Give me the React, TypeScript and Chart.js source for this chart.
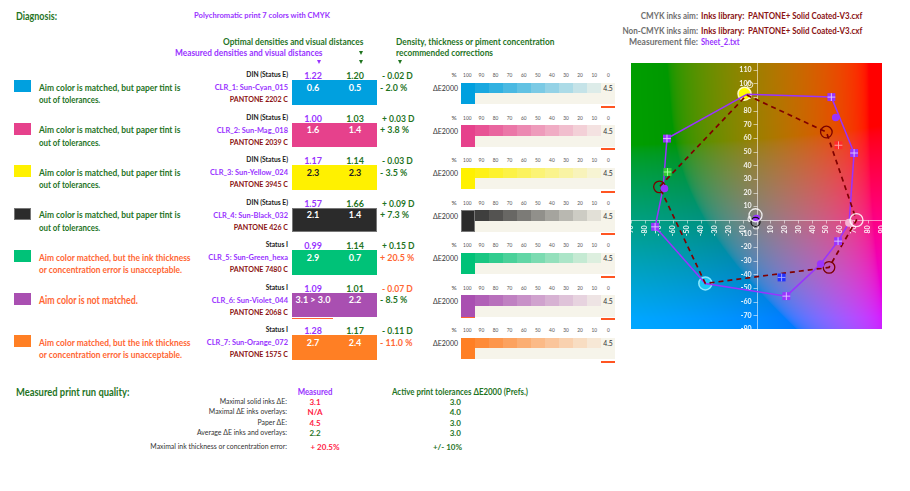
import React, { useEffect, useRef } from 'react';
import { Chart, registerables } from 'chart.js';
Chart.register(...registerables);

const FONT = 'Lato, "Noto Sans", "DejaVu Sans", sans-serif';

// ---------------- data: ink rows ----------------
const inkLabels = ['CLR_1: Sun-Cyan_015', 'CLR_2: Sun-Mag_018', 'CLR_3: Sun-Yellow_024', 'CLR_4: Sun-Black_032', 'CLR_5: Sun-Green_hexa', 'CLR_6: Sun-Violet_044', 'CLR_7: Sun-Orange_072'];
const pantoneRefs = ['PANTONE 2202 C', 'PANTONE 2039 C', 'PANTONE 3945 C', 'PANTONE 426 C', 'PANTONE 7480 C', 'PANTONE 2068 C', 'PANTONE 1575 C'];
const densityStatus = ['DIN (Status E)', 'DIN (Status E)', 'DIN (Status E)', 'DIN (Status E)', 'Status I', 'Status I', 'Status I'];
const measuredDensity = ['1.22', '1.00', '1.17', '1.57', '0.99', '1.09', '1.28'];
const optimalDensity = ['1.20', '1.03', '1.14', '1.66', '1.14', '1.01', '1.17'];
const densityCorrection = ['- 0.02 D', '+ 0.03 D', '- 0.03 D', '+ 0.09 D', '+ 0.15 D', '- 0.07 D', '- 0.11 D'];
const densityCorrectionOk = [true, true, true, true, true, false, true];
const measuredDeltaE = ['0.6', '1.6', '2.3', '2.1', '2.9', '3.1 > 3.0', '2.7'];
const optimalDeltaE = ['0.5', '1.4', '2.3', '1.4', '0.7', '2.2', '2.4'];
const deltaEOutOfTol = [false, false, false, false, false, true, false];
const thicknessCorrection = ['- 2.0 %', '+ 3.8 %', '- 3.5 %', '+ 7.3 %', '+ 20.5 %', '- 8.5 %', '- 11.0 %'];
const thicknessOk = [true, true, true, true, false, true, false];
const diagnosisText = [
  ['Aim color is matched, but paper tint is', 'out of tolerances.'],
  ['Aim color is matched, but paper tint is', 'out of tolerances.'],
  ['Aim color is matched, but paper tint is', 'out of tolerances.'],
  ['Aim color is matched, but paper tint is', 'out of tolerances.'],
  ['Aim color matched, but the ink thickness', 'or concentration error is unacceptable.'],
  ['Aim color is not matched.'],
  ['Aim color matched, but the ink thickness', 'or concentration error is unacceptable.'],
];
const diagnosisOk = [true, true, true, true, false, false, false];
const inkColors = ['#00a0df', '#e6418c', '#fff100', '#2b2b2b', '#00c278', '#a94fb1', '#ff7f24'];
const tintSteps = [100, 90, 80, 70, 60, 50, 40, 30, 20, 10];
const tintAxisLabels = ['100', '90', '80', '70', '60', '50', '40', '30', '20', '10', '0'];
const paperDeltaE = ['4.5', '4.5', '4.5', '4.5', '4.5', '4.5', '4.5'];

// ---------------- data: quality summary ----------------
const qualityLabels = ['Maximal solid inks ΔE:', 'Maximal ΔE inks overlays:', 'Paper ΔE:', 'Average ΔE inks and overlays:', 'Maximal ink thickness or concentration error:'];
const qualityMeasured = ['3.1', 'N/A', '4.5', '2.2', '+ 20.5%'];
const qualityMeasuredOk = [false, false, false, true, false];
const qualityTolerance = ['3.0', '4.0', '3.0', '3.0', '+/- 10%'];

// ---------------- data: a*b* chart ----------------
const aTicks = [-90, -80, -70, -60, -50, -40, -30, -20, -10, 0, 10, 20, 30, 40, 50, 60, 70, 80, 90];
const bTicks = [-80, -70, -60, -50, -40, -30, -20, -10, 0, 10, 20, 30, 40, 50, 60, 70, 80, 90, 100, 110];
const aimGamutA = [-7, 50.1, 71.7, 52, -36.7, -69.6, -7];
const aimGamutB = [91.5, 64.4, -0.2, -34.8, -46.6, 24.2, 91.5];
const printGamutA = [-7, 53.7, 70, 66.4, 58.5, 46, 21.4, -36.7, -72.7, -67, -64.2, -7];
const printGamutB = [92, 90, 49, -2.2, -15.6, -32.4, -55.9, -46.6, -5.1, 23, 59.6, 92];
const overprintA = [53.7, 70, 58.5, 21.4, -72.7, -64.2];
const overprintB = [90, 49, -15.6, -55.9, -5.1, 59.6];
const rgbOverprintA = [58.8, -63.8, 18];
const rgbOverprintB = [54.7, 35.1, -42.2];
const measuredInkA = [56.8, 46, -66, 0];
const measuredInkB = [75, -32.4, 23, 1];
const aimInkA = [50.1, 52, -69.6];
const aimInkB = [64.4, -34.8, 24.2];
const paperRingA = [71.7, -0.7];
const paperRingB = [-0.2, 3.4];
const smallRingA = [-4.8];
const smallRingB = [99.1];
const blackRingA = [-0.7];
const blackRingB = [-1.5];
const magentaDotA = [66.4];
const magentaDotB = [-2.2];
const yellowDotA = [-8.6];
const yellowDotB = [92.5];
const cyanDotA = [-36.7];
const cyanDotB = [-46.6];

// ---------------- styles ----------------
const GREEN = '#1f741f';
const PURPLE = '#9933ff';
const DARKRED = '#8b1212';
const ORANGE = '#ff6633';
const RED = '#ff2244';
const GRAY = '#6f6f6f';
const PAPER = '#f6f4ea';
const BG_L = 54;
const ROW0 = 75;
const PITCH = 42.5;

const pts = (xs: number[], ys: number[]) => xs.map((x, i) => ({ x, y: ys[i] }));

const measureCtx = document.createElement('canvas').getContext('2d') as CanvasRenderingContext2D;
function textWidth(t: string, s: number, wt: number) {
  measureCtx.font = `${wt} ${s}px ${FONT}`;
  return measureCtx.measureText(t).width;
}
function fitK(t: string, s: number, wt: number, w: number) {
  const m = textWidth(t, s, wt);
  return m > 0 ? w / m : 1;
}

type TP = { x: number; y: number; s: number; c: string; t: string; wt?: number; al?: 'l' | 'r' | 'c'; fit?: number; refT?: string; refW?: number };
function T({ x, y, s, c, t, wt = 700, al = 'l', fit, refT, refW }: TP) {
  let k = 1;
  if (fit) k = fitK(t, s, wt, fit);
  else if (refT && refW) k = fitK(refT, s, wt, refW);
  k = Math.max(0.6, Math.min(1.5, k));
  const tx = al === 'l' ? '0%' : al === 'r' ? '-100%' : '-50%';
  const ox = al === 'l' ? '0%' : al === 'r' ? '100%' : '50%';
  return (
    <div style={{ position: 'absolute', left: x, top: y, fontFamily: FONT, fontSize: s, fontWeight: wt, color: c, lineHeight: 1, whiteSpace: 'nowrap', transformOrigin: `${ox} 50%`, transform: `translate(${tx},-50%) scaleX(${k})` }}>{t}</div>
  );
}

function Arrow({ x, y, c }: { x: number; y: number; c: string }) {
  return <div style={{ position: 'absolute', left: x - 2.5, top: y - 2, width: 0, height: 0, borderLeft: '2.5px solid transparent', borderRight: '2.5px solid transparent', borderTop: `4px solid ${c}` }} />;
}

function Box({ x, y, w, h, bg, border }: { x: number; y: number; w: number; h: number; bg: string; border?: string }) {
  return <div style={{ position: 'absolute', left: x, top: y, width: w, height: h, background: bg, boxSizing: 'border-box', border: border || 'none' }} />;
}

function hexToRgb(h: string) {
  const n = parseInt(h.slice(1), 16);
  return [(n >> 16) & 255, (n >> 8) & 255, n & 255];
}
function tint(ink: string, t: number) {
  const a = hexToRgb(ink), p = hexToRgb(PAPER);
  return `rgb(${a.map((v, i) => Math.round(p[i] + (v - p[i]) * t)).join(',')})`;
}

function lab2rgb(L: number, a: number, b: number) {
  const fy = (L + 16) / 116, fx = fy + a / 500, fz = fy - b / 200;
  const d = 6 / 29;
  const f = (t: number) => (t > d ? t * t * t : 3 * d * d * (t - 4 / 29));
  const X = 0.95047 * f(fx), Y = f(fy), Z = 1.08883 * f(fz);
  const r = 3.2406 * X - 1.5372 * Y - 0.4986 * Z;
  const g = -0.9689 * X + 1.8758 * Y + 0.0415 * Z;
  const bb = 0.0557 * X - 0.204 * Y + 1.057 * Z;
  const gm = (c: number) => {
    c = Math.max(0, Math.min(1, c));
    return Math.round(255 * (c <= 0.0031308 ? 12.92 * c : 1.055 * Math.pow(c, 1 / 2.4) - 0.055));
  };
  return [gm(r), gm(g), gm(bb)];
}

const labBackground = {
  id: 'labBackground',
  beforeDatasetsDraw(chart: any) {
    const { ctx, chartArea: ca, scales } = chart;
    const xs = scales.x, ys = scales.y;
    const w = Math.round(ca.right - ca.left), h = Math.round(ca.bottom - ca.top);
    const img = ctx.createImageData(w, h);
    for (let j = 0; j < h; j++) {
      const bv = ys.getValueForPixel(ca.top + j + 0.5);
      for (let i = 0; i < w; i++) {
        const av = xs.getValueForPixel(ca.left + i + 0.5);
        const c = lab2rgb(BG_L, av, bv);
        const o = (j * w + i) * 4;
        img.data[o] = c[0]; img.data[o + 1] = c[1]; img.data[o + 2] = c[2]; img.data[o + 3] = 255;
      }
    }
    ctx.putImageData(img, Math.round(ca.left), Math.round(ca.top));
    ctx.save();
    ctx.beginPath();
    ctx.rect(ca.left, ca.top, w, h);
    ctx.clip();
    const x0 = Math.round(xs.getPixelForValue(0)) + 0.5;
    const y0 = Math.round(ys.getPixelForValue(0)) + 0.5;
    ctx.strokeStyle = 'rgba(255,255,255,0.55)';
    ctx.lineWidth = 1;
    ctx.beginPath();
    ctx.moveTo(x0, ca.top); ctx.lineTo(x0, ca.bottom);
    ctx.moveTo(ca.left, y0); ctx.lineTo(ca.right, y0);
    bTicks.forEach((v) => { const p = Math.round(ys.getPixelForValue(v)) + 0.5; ctx.moveTo(x0 - 4, p); ctx.lineTo(x0, p); });
    aTicks.forEach((v) => { const p = Math.round(xs.getPixelForValue(v)) + 0.5; ctx.moveTo(p, y0); ctx.lineTo(p, y0 + 3); });
    ctx.stroke();
    ctx.fillStyle = 'rgba(255,255,255,0.9)';
    ctx.font = `bold 7px ${FONT}`;
    ctx.textAlign = 'right';
    ctx.textBaseline = 'middle';
    bTicks.forEach((v) => ctx.fillText(String(v), x0 - 6, ys.getPixelForValue(v)));
    aTicks.forEach((v) => {
      ctx.save();
      ctx.translate(xs.getPixelForValue(v), y0 + 5);
      ctx.rotate(-Math.PI / 2);
      ctx.textAlign = 'right';
      ctx.fillText(String(v), 0, 0);
      ctx.restore();
    });
    ctx.restore();
  },
};

function LabChart() {
  const ref = useRef<HTMLCanvasElement>(null);
  useEffect(() => {
    if (!ref.current) return;
    const crossColors = [...overprintA.map(() => 'rgba(225,205,255,0.9)'), 'rgba(255,170,170,0.9)', 'rgba(170,255,170,0.9)', 'rgba(170,170,255,0.9)'];
    const chart = new Chart(ref.current, {
      type: 'scatter',
      data: {
        datasets: [
          { label: 'cross', data: [...pts(overprintA, overprintB), ...pts(rgbOverprintA, rgbOverprintB)], pointStyle: 'cross', pointRadius: 3.9, borderColor: crossColors, borderWidth: 1, backgroundColor: 'transparent' },
          { label: 'overprints', data: pts(overprintA, overprintB), pointStyle: 'rect', pointRadius: 5.6, backgroundColor: PURPLE, borderWidth: 0 },
          { label: 'rgb', data: pts(rgbOverprintA, rgbOverprintB), pointStyle: 'rect', pointRadius: 5.6, backgroundColor: ['#ff2a2a', '#33cc33', '#2233ff'], borderWidth: 0 },
          { label: 'small ring', data: pts(smallRingA, smallRingB), pointRadius: 3, borderColor: 'rgba(255,255,255,0.8)', borderWidth: 1, backgroundColor: 'transparent' },
          { label: 'paper', data: pts(paperRingA, paperRingB), pointRadius: 6.5, borderColor: 'rgba(255,255,255,0.85)', borderWidth: 1.3, backgroundColor: 'transparent' },
          { label: 'black', data: pts(blackRingA, blackRingB), pointRadius: 4.5, borderColor: '#111', borderWidth: 1.2, backgroundColor: 'transparent' },
          { label: 'measured', data: pts(measuredInkA, measuredInkB), pointRadius: 3.8, backgroundColor: PURPLE, borderWidth: 0 },
          { label: 'magenta', data: pts(magentaDotA, magentaDotB), pointRadius: 4, backgroundColor: '#f7b3d4', borderWidth: 0 },
          { label: 'aim', data: pts(aimInkA, aimInkB), pointRadius: 5.8, borderColor: '#7a0000', borderWidth: 1.3, backgroundColor: 'transparent' },
          { label: 'aim gamut', data: pts(aimGamutA, aimGamutB), showLine: true, borderColor: '#800000', borderWidth: 1.7, borderDash: [5, 4], pointRadius: 0, fill: false },
          { label: 'print gamut', data: pts(printGamutA, printGamutB), showLine: true, borderColor: PURPLE, borderWidth: 1.5, pointRadius: 0, fill: false },
          { label: 'yellow', data: pts(yellowDotA, yellowDotB), pointRadius: 6.5, backgroundColor: '#ffff00', borderColor: '#fffac0', borderWidth: 1.5 },
          { label: 'cyan', data: pts(cyanDotA, cyanDotB), pointRadius: 6.5, backgroundColor: '#19c9f5', borderColor: '#8ae8ff', borderWidth: 1.5 },
        ],
      },
      options: {
        animation: false,
        responsive: false,
        maintainAspectRatio: false,
        events: [],
        layout: { padding: 0, autoPadding: false },
        plugins: { legend: { display: false }, tooltip: { enabled: false } },
        scales: {
          x: { type: 'linear', min: -90, max: 90, display: false },
          y: { type: 'linear', min: -80, max: 115, display: false },
        },
      },
      plugins: [labBackground],
    } as any);
    return () => chart.destroy();
  }, []);
  return <canvas ref={ref} width={251} height={266} style={{ position: 'absolute', left: 631, top: 63, width: 251, height: 266 }} />;
}

const diagWidths: Record<string, number> = {
  'Aim color is matched, but paper tint is': 141.7,
  'out of tolerances.': 61.4,
  'Aim color matched, but the ink thickness': 151.7,
  'or concentration error is unacceptable.': 143.4,
  'Aim color is not matched.': 99,
};

function InkRow({ i }: { i: number }) {
  const y0 = ROW0 + PITCH * i;
  const ink = inkColors[i];
  const boxText = ink === '#fff100' ? '#222' : '#fff';
  const darkBorder = ink === '#2b2b2b' ? '1px solid #777' : undefined;
  const dc = diagnosisOk[i] ? GREEN : ORANGE;
  const lines = diagnosisText[i];
  return (
    <>
      <Box x={14} y={y0 + 5} w={17} h={12.3} bg={ink} border={darkBorder} />
      {lines.length === 1 ? (
        <T x={39.3} y={y0 + 12.5} s={10.8} c={dc} t={lines[0]} fit={diagWidths[lines[0]]} />
      ) : (
        lines.map((l, j) => <T key={j} x={39.3} y={y0 + 11.7 + j * 12.3} s={9} c={dc} t={l} fit={diagWidths[l]} />)
      )}
      <T x={288.3} y={y0} s={6.5} c="#222" t={densityStatus[i]} al="r" fit={densityStatus[i] === 'Status I' ? 22.3 : 41.7} />
      <T x={312.8} y={y0} s={10} c={PURPLE} t={measuredDensity[i]} al="c" refT="1.22" refW={17.7} />
      <T x={355} y={y0} s={10} c={GREEN} t={optimalDensity[i]} al="c" refT="1.22" refW={17.7} />
      <T x={381.7} y={y0} s={10} c={densityCorrectionOk[i] ? GREEN : ORANGE} t={densityCorrection[i]} refT="- 0.02 D" refW={30.7} />
      <T x={288.3} y={y0 + 12} s={8.2} c={PURPLE} t={inkLabels[i]} al="r" refT="CLR_1: Sun-Cyan_015" refW={73.3} />
      <T x={288.3} y={y0 + 24} s={8.2} c={DARKRED} t={pantoneRefs[i]} al="r" refT="PANTONE 2202 C" refW={58.3} />
      <Box x={291.7} y={y0 + 5.3} w={85} h={24.5} bg={ink} border={darkBorder} />
      <T x={312.7} y={y0 + 11.7} s={10} c={boxText} t={measuredDeltaE[i]} al="c" refT="3.1 > 3.0" refW={35} />
      <T x={355} y={y0 + 11.7} s={10} c={boxText} t={optimalDeltaE[i]} al="c" refT="3.1 > 3.0" refW={35} />
      {deltaEOutOfTol[i] && <Box x={291.7} y={y0 + 30.3} w={41.6} h={1.6} bg={ORANGE} />}
      <T x={380} y={y0 + 11.7} s={10} c={thicknessOk[i] ? GREEN : ORANGE} t={thicknessCorrection[i]} refT="- 2.0 %" refW={27.3} />
      <T x={454} y={y0} s={6.5} c="#444" t="%" al="c" wt={400} />
      {tintAxisLabels.map((l, k) => <T key={k} x={467.3 + 14.1 * k} y={y0} s={4.8} c="#555" t={l} al="c" wt={400} />)}
      <T x={458.3} y={y0 + 13} s={6.8} c="#333" t="ΔE2000" al="r" wt={400} fit={25} />
      <Box x={460.7} y={y0 + 7.7} w={154.3} h={21.6} bg={PAPER} />
      {tintSteps.map((t, k) => <Box key={k} x={460.7 + 14 * k} y={y0 + 7.7} w={14} h={10.6} bg={tint(ink, t / 100)} />)}
      <Box x={460.7} y={y0 + 7.7} w={14.3} h={21.6} bg={ink} border={darkBorder} />
      {deltaEOutOfTol[i] && <Box x={460.7} y={y0 + 29.3} w={14.3} h={1.6} bg={ORANGE} />}
      <T x={608} y={y0 + 13} s={6.8} c="#333" t={paperDeltaE[i]} al="c" wt={400} />
      <Box x={601} y={y0 + 30.5} w={14} h={2} bg="#ff5522" />
    </>
  );
}

export default function App() {
  const qY = [402.3, 412.3, 422.7, 432.7, 446.7];
  const mX = [315, 315, 315, 315, 325];
  const tX = [455.3, 455.3, 455.3, 455.3, 447.5];
  return (
    <div style={{ position: 'absolute', left: 0, top: 0, width: 910, height: 491, background: '#fff', overflow: 'hidden' }}>
      <T x={16} y={16} s={10.8} c={GREEN} t="Diagnosis:" fit={41} />
      <T x={262} y={15.3} s={8.2} c={PURPLE} t="Polychromatic print 7 colors with CMYK" al="c" fit={136} />
      <T x={222.7} y={42} s={9.3} c={GREEN} t="Optimal densities and visual distances" fit={140.6} />
      <T x={175} y={53} s={9.3} c={PURPLE} t="Measured densities and visual distances" fit={147.7} />
      <T x={395.7} y={42} s={9.3} c={GREEN} t="Density, thickness or piment concentration" fit={158.6} />
      <T x={395.7} y={53} s={9.3} c={GREEN} t="recommended corrections" fit={97} />
      <Arrow x={361} y={53} c={GREEN} />
      <Arrow x={319} y={62} c={PURPLE} />
      <Arrow x={361} y={62} c={GREEN} />
      <Arrow x={400} y={62} c={GREEN} />

      <T x={698.3} y={15.7} s={9.3} c={GRAY} t="CMYK inks aim:" al="r" fit={57.3} />
      <T x={700.7} y={15.7} s={9.3} c={DARKRED} t="Inks library:" fit={43.3} />
      <T x={748.3} y={15.7} s={9.3} c={DARKRED} t="PANTONE+ Solid Coated-V3.cxf" fit={114.3} />
      <T x={698.3} y={30.7} s={9.3} c={GRAY} t="Non-CMYK inks aim:" al="r" fit={75.6} />
      <T x={700.7} y={30.7} s={9.3} c={DARKRED} t="Inks library:" fit={43.3} />
      <T x={748.3} y={30.7} s={9.3} c={DARKRED} t="PANTONE+ Solid Coated-V3.cxf" fit={114.3} />
      <T x={698.3} y={42.3} s={9.3} c={GRAY} t="Measurement file:" al="r" fit={69} />
      <T x={700.7} y={42.3} s={9.3} c={PURPLE} t="Sheet_2.txt" fit={38.6} />

      {inkLabels.map((_, i) => <InkRow key={i} i={i} />)}

      <LabChart />

      <T x={16} y={391.7} s={10.8} c={GREEN} t="Measured print run quality:" fit={113.3} />
      <T x={315} y={391.7} s={9.3} c={PURPLE} t="Measured" al="c" fit={34.7} />
      <T x={391.7} y={391.7} s={9.3} c={GREEN} t="Active print tolerances ΔE2000 (Prefs.)" fit={136} />
      {qualityLabels.map((l, i) => (
        <T key={'l' + i} x={287.3} y={qY[i]} s={7.5} c="#333" t={l} al="r" wt={400} refT="Maximal solid inks ΔE:" refW={67.3} />
      ))}
      {qualityMeasured.map((v, i) => (
        <T key={'m' + i} x={mX[i]} y={qY[i]} s={8} c={qualityMeasuredOk[i] ? GREEN : RED} t={v} al="c" />
      ))}
      {qualityTolerance.map((v, i) => (
        <T key={'t' + i} x={tX[i]} y={qY[i]} s={8} c={GREEN} t={v} al="c" />
      ))}
    </div>
  );
}
